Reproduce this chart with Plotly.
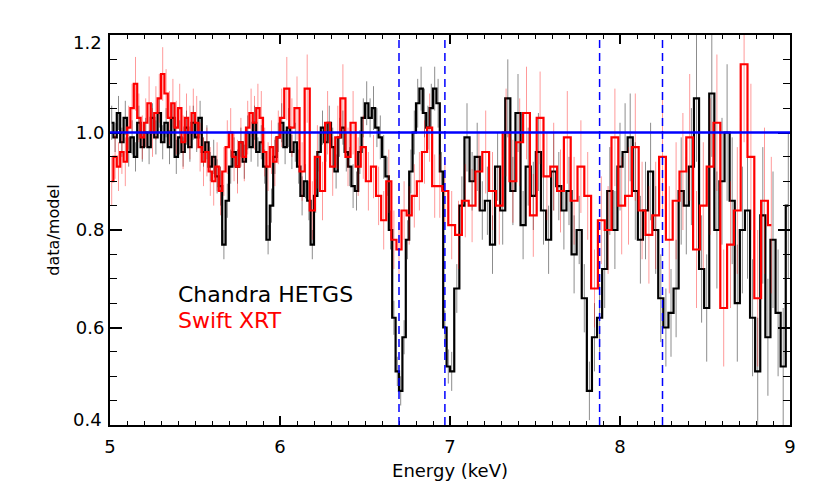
import plotly.graph_objects as go

# Chandra HETGS ratio spectrum (bin centres in keV)
chandra_energy = [
    5.01, 5.03, 5.05, 5.07, 5.09, 5.11, 5.13, 5.15, 5.17, 5.19,
    5.21, 5.23, 5.25, 5.27, 5.29, 5.31, 5.33, 5.35, 5.37, 5.39,
    5.41, 5.43, 5.45, 5.47, 5.49, 5.51, 5.53, 5.55, 5.57, 5.59,
    5.61, 5.63, 5.65, 5.67, 5.69, 5.71, 5.73, 5.75, 5.77, 5.79,
    5.81, 5.83, 5.85, 5.87, 5.89, 5.91, 5.93, 5.95, 5.97, 5.99,
    6.01, 6.03, 6.05, 6.07, 6.09, 6.11, 6.13, 6.15, 6.17, 6.19,
    6.21, 6.23, 6.25, 6.27, 6.29, 6.31, 6.33, 6.35, 6.37, 6.39,
    6.41, 6.43, 6.45, 6.47, 6.49, 6.51, 6.53, 6.55, 6.57, 6.59,
    6.61, 6.63, 6.65, 6.67, 6.69, 6.71, 6.73, 6.75, 6.77, 6.79,
    6.81, 6.83, 6.85, 6.87, 6.89, 6.91, 6.93, 6.95, 6.97, 6.99,
    7.01, 7.04, 7.07, 7.10, 7.13, 7.16, 7.19, 7.22, 7.25, 7.28,
    7.31, 7.34, 7.37, 7.40, 7.43, 7.46, 7.49, 7.52, 7.55, 7.58,
    7.61, 7.64, 7.67, 7.70, 7.73, 7.76, 7.79, 7.82, 7.85, 7.88,
    7.91, 7.94, 7.97, 8.00, 8.03, 8.06, 8.09, 8.12, 8.15, 8.18,
    8.21, 8.24, 8.27, 8.30, 8.33, 8.36, 8.39, 8.42, 8.45, 8.48,
    8.51, 8.54, 8.57, 8.60, 8.63, 8.66, 8.69, 8.72, 8.75, 8.78,
    8.81, 8.84, 8.87, 8.90, 8.93, 8.96, 8.99,
]
chandra_ratio = [
    1.02, 0.99, 1.04, 0.98, 1.03, 0.96, 0.99, 0.95, 1.02, 0.97,
    1.00, 0.97, 1.03, 0.99, 1.04, 0.98, 1.02, 0.97, 1.03, 0.95,
    0.99, 0.96, 1.01, 0.97, 1.02, 0.99, 1.03, 0.96, 0.98, 0.93,
    0.95, 0.91, 0.89, 0.77, 0.86, 0.93, 0.96, 0.93, 0.98, 0.94,
    1.00, 0.97, 1.02, 0.96, 0.98, 0.93, 0.78, 0.85, 0.95, 0.99,
    1.02, 0.97, 1.01, 0.96, 0.98, 0.93, 0.87, 0.90, 0.86, 0.77,
    0.87, 0.96, 1.01, 0.98, 1.02, 0.97, 0.92, 0.99, 1.01, 0.96,
    0.93, 0.89, 0.88, 0.96, 1.03, 1.06, 1.03, 1.05, 1.01, 0.99,
    0.95, 0.91, 0.80, 0.62, 0.51, 0.47, 0.58, 0.78, 0.92, 1.00,
    1.06, 1.09, 1.04, 1.01, 1.05, 1.09, 1.06, 0.92, 0.60, 0.52,
    0.51, 0.68, 0.85, 0.99, 0.90, 0.95, 0.84, 0.86, 0.77, 0.93,
    0.84, 1.07, 0.88, 1.04, 0.81, 0.93, 0.87, 0.96, 0.84, 0.78,
    0.92, 0.89, 0.84, 0.88, 0.75, 0.80, 0.66, 0.47, 0.58, 0.62,
    0.72, 0.88, 0.80, 0.93, 0.96, 0.99, 0.88, 0.78, 0.84, 0.92,
    0.80, 0.66, 0.60, 0.63, 0.68, 0.88, 0.85, 0.93, 1.07, 0.72,
    0.64, 1.08, 0.80, 0.90, 1.00, 0.86, 0.65, 0.80, 0.84, 0.62,
    0.51, 0.83, 0.58, 0.78, 0.63, 0.52, 0.85,
]
chandra_err = [
    0.035, 0.030, 0.035, 0.030, 0.035, 0.030, 0.035, 0.030, 0.035, 0.030,
    0.030, 0.035, 0.030, 0.035, 0.030, 0.035, 0.030, 0.035, 0.030, 0.035,
    0.035, 0.030, 0.035, 0.030, 0.035, 0.030, 0.035, 0.030, 0.035, 0.030,
    0.035, 0.035, 0.040, 0.030, 0.035, 0.035, 0.030, 0.035, 0.030, 0.035,
    0.035, 0.030, 0.035, 0.030, 0.035, 0.035, 0.030, 0.035, 0.035, 0.030,
    0.040, 0.035, 0.040, 0.035, 0.040, 0.035, 0.040, 0.035, 0.040, 0.030,
    0.035, 0.040, 0.035, 0.040, 0.035, 0.040, 0.035, 0.040, 0.035, 0.040,
    0.040, 0.045, 0.040, 0.045, 0.040, 0.045, 0.040, 0.045, 0.040, 0.045,
    0.045, 0.040, 0.040, 0.035, 0.030, 0.030, 0.035, 0.040, 0.045, 0.045,
    0.050, 0.045, 0.050, 0.045, 0.050, 0.045, 0.050, 0.040, 0.035, 0.035,
    0.040, 0.050, 0.060, 0.070, 0.060, 0.070, 0.060, 0.070, 0.060, 0.070,
    0.070, 0.080, 0.070, 0.080, 0.070, 0.080, 0.070, 0.080, 0.070, 0.070,
    0.080, 0.070, 0.080, 0.070, 0.080, 0.070, 0.070, 0.060, 0.070, 0.070,
    0.080, 0.090, 0.080, 0.090, 0.100, 0.090, 0.100, 0.090, 0.100, 0.100,
    0.090, 0.090, 0.080, 0.090, 0.100, 0.110, 0.100, 0.120, 0.130, 0.110,
    0.110, 0.130, 0.120, 0.130, 0.140, 0.130, 0.120, 0.130, 0.140, 0.120,
    0.110, 0.140, 0.120, 0.140, 0.130, 0.120, 0.150,
]

# Swift XRT ratio spectrum
swift_energy = [
    5.01, 5.03, 5.05, 5.07, 5.09, 5.11, 5.13, 5.15, 5.17, 5.19,
    5.21, 5.23, 5.25, 5.27, 5.29, 5.31, 5.33, 5.35, 5.37, 5.39,
    5.41, 5.43, 5.45, 5.47, 5.49, 5.51, 5.53, 5.55, 5.57, 5.59,
    5.61, 5.63, 5.65, 5.67, 5.69, 5.71, 5.73, 5.75, 5.77, 5.79,
    5.81, 5.83, 5.85, 5.87, 5.89, 5.91, 5.93, 5.95, 5.97, 5.99,
    6.01, 6.04, 6.07, 6.10, 6.13, 6.16, 6.19, 6.22, 6.25, 6.28,
    6.31, 6.34, 6.37, 6.40, 6.43, 6.46, 6.49, 6.52, 6.55, 6.58,
    6.61, 6.64, 6.67, 6.70, 6.73, 6.76, 6.79, 6.82, 6.85, 6.88,
    6.91, 6.94, 6.97,
    7.01, 7.05, 7.09, 7.13, 7.17, 7.21, 7.25, 7.29, 7.33, 7.37,
    7.41, 7.45, 7.49, 7.53, 7.57, 7.61, 7.65, 7.69, 7.73, 7.77,
    7.81, 7.85, 7.89, 7.93, 7.97,
    8.01, 8.05, 8.09, 8.13, 8.17, 8.21, 8.25, 8.29, 8.33, 8.37,
    8.41, 8.45, 8.49, 8.53, 8.57, 8.61, 8.65, 8.69, 8.73, 8.77,
    8.81, 8.85, 8.89,
]
swift_ratio = [
    0.90, 0.95, 0.93, 0.96, 0.94, 1.01, 1.05, 1.10, 1.03, 0.99,
    1.02, 1.06, 1.00, 1.04, 1.07, 1.12, 1.08, 1.03, 1.06, 1.01,
    1.05, 0.98, 1.03, 1.00, 1.04, 1.02, 0.97, 0.94, 0.96, 0.92,
    0.90, 0.93, 0.88, 0.92, 0.97, 1.00, 0.95, 0.93, 0.98, 0.95,
    1.01, 1.04, 1.02, 1.05, 1.03, 0.96, 0.93, 0.97, 0.94, 0.99,
    1.03, 1.09, 1.01, 1.05, 0.92, 1.09, 0.84, 0.95, 0.88, 1.02,
    0.93, 0.99, 1.07, 0.95, 1.02, 0.93, 0.97, 0.90, 0.93, 0.87,
    0.82, 0.90, 0.78, 0.76, 0.84, 0.83, 0.87, 0.90, 0.96, 1.01,
    0.89, 0.89, 0.88,
    0.81, 0.79, 0.86, 0.85, 0.92, 0.96, 0.88, 0.85, 1.00, 0.90,
    0.98, 1.04, 0.83, 1.03, 0.91, 0.93, 0.88, 0.99, 0.86, 0.93,
    0.87, 0.68, 0.82, 0.80, 0.99,
    0.85, 0.87, 0.97, 0.84, 0.79, 0.83, 0.95, 0.78, 0.86, 0.92,
    0.99, 0.76, 0.85, 0.93, 1.02, 0.64, 0.77, 0.84, 1.14, 0.95,
    0.66, 0.86, 0.81,
]
swift_err = [
    0.050, 0.045, 0.050, 0.045, 0.050, 0.045, 0.050, 0.055, 0.050, 0.045,
    0.050, 0.055, 0.050, 0.055, 0.050, 0.055, 0.050, 0.055, 0.050, 0.055,
    0.050, 0.055, 0.050, 0.055, 0.050, 0.055, 0.050, 0.050, 0.050, 0.050,
    0.050, 0.050, 0.050, 0.050, 0.055, 0.050, 0.050, 0.055, 0.050, 0.050,
    0.055, 0.050, 0.055, 0.050, 0.055, 0.050, 0.050, 0.055, 0.050, 0.055,
    0.060, 0.065, 0.060, 0.065, 0.060, 0.070, 0.060, 0.065, 0.060, 0.065,
    0.060, 0.065, 0.070, 0.060, 0.065, 0.060, 0.065, 0.060, 0.065, 0.060,
    0.060, 0.065, 0.060, 0.055, 0.060, 0.060, 0.065, 0.060, 0.065, 0.070,
    0.065, 0.065, 0.065,
    0.070, 0.070, 0.075, 0.075, 0.080, 0.085, 0.080, 0.080, 0.090, 0.085,
    0.090, 0.095, 0.085, 0.095, 0.090, 0.090, 0.085, 0.095, 0.090, 0.095,
    0.090, 0.080, 0.090, 0.090, 0.100,
    0.100, 0.100, 0.110, 0.100, 0.100, 0.110, 0.120, 0.110, 0.120, 0.120,
    0.130, 0.120, 0.130, 0.140, 0.140, 0.120, 0.130, 0.130, 0.160, 0.150,
    0.140, 0.150, 0.140,
]

line_energies = [6.70, 6.97, 7.88, 8.25]
x_ticks = [5, 6, 7, 8, 9]
y_ticks = [0.4, 0.6, 0.8, 1.0, 1.2]

fig = go.Figure()


def add_spectrum(energy, ratio, err, color, err_color):
    fig.add_trace(go.Scatter(x=energy, y=ratio, mode='markers',
                             marker=dict(size=1, color='rgba(0,0,0,0)'),
                             error_y=dict(type='data', array=err, color=err_color,
                                          thickness=1, width=0),
                             hoverinfo='skip'))
    fig.add_trace(go.Scatter(x=energy, y=ratio, mode='lines',
                             line=dict(color=color, width=2.2, shape='hvh')))


add_spectrum(chandra_energy, chandra_ratio, chandra_err, 'black', 'rgba(0,0,0,0.45)')
add_spectrum(swift_energy, swift_ratio, swift_err, 'red', 'rgba(255,0,0,0.4)')

fig.add_hline(y=1.0, line=dict(color='blue', width=2.5), layer='above')
for e in line_energies:
    fig.add_vline(x=e, line=dict(color='blue', width=1.5, dash='8px,5px'), layer='above')

fig.add_annotation(x=5.39, y=0.667, xref='x', yref='y', text='Chandra HETGS',
                   showarrow=False, xanchor='left', yanchor='middle',
                   font=dict(size=22, color='black'))
fig.add_annotation(x=5.39, y=0.615, xref='x', yref='y', text='Swift XRT',
                   showarrow=False, xanchor='left', yanchor='middle',
                   font=dict(size=22, color='red'))

# IDL-style end labels sit inside the axis span
y_text = ['%.1f' % v for v in y_ticks]
for v, shift in [(y_ticks[0], 6), (y_ticks[-1], -7)]:
    fig.add_annotation(x=0, y=v, xref='paper', yref='y', text='%.1f' % v,
                       showarrow=False, xanchor='right', yanchor='middle',
                       xshift=-6, yshift=shift, font=dict(size=18, color='black'))
y_text[0] = ''
y_text[-1] = ''

axis_common = dict(ticks='inside', tickwidth=1.5, tickcolor='black',
                   showline=True, linewidth=2, linecolor='black', mirror='allticks',
                   showgrid=False, zeroline=False, tickfont=dict(size=18))
fig.update_xaxes(range=[5, 9], tickvals=x_ticks, ticklen=9, ticklabelstandoff=4,
                 minor=dict(dtick=0.1, ticklen=4, tickwidth=1, ticks='inside', tickcolor='black'),
                 title=dict(text='Energy (keV)', font=dict(size=18), standoff=9),
                 **axis_common)
fig.update_yaxes(range=[0.4, 1.2], tickvals=y_ticks, ticktext=y_text, ticklen=12,
                 minor=dict(dtick=0.05, ticklen=7, tickwidth=1, ticks='inside', tickcolor='black'),
                 title=dict(text='data/model', font=dict(size=16), standoff=12),
                 **axis_common)

# page body adds an 8px offset, so margins are shifted to compensate
fig.update_layout(width=822, height=494, margin=dict(l=102, r=40, t=27, b=77),
                  plot_bgcolor='white', paper_bgcolor='white', showlegend=False,
                  font=dict(family='DejaVu Sans', color='black'))

fig.write_html("out.html")
